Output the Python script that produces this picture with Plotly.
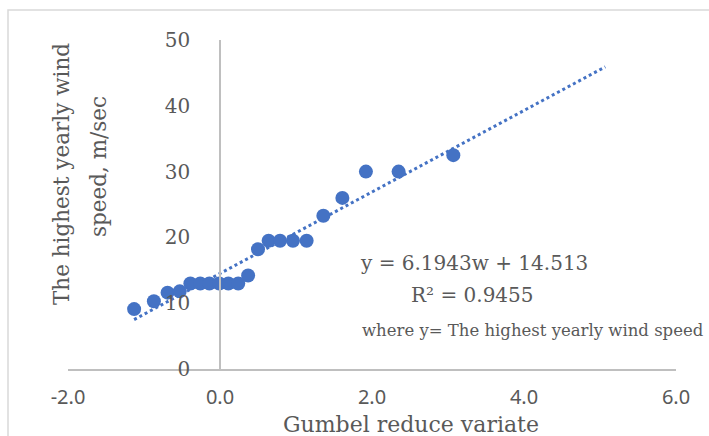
import plotly.graph_objects as go

# Data
gumbel_w = [-1.13, -0.87, -0.69, -0.53, -0.39, -0.26, -0.14, -0.01, 0.11, 0.24,
            0.37, 0.50, 0.64, 0.79, 0.96, 1.14, 1.36, 1.61, 1.92, 2.35, 3.07]
wind_speed = [9.1, 10.3, 11.6, 11.8, 13.0, 13.0, 13.0, 13.0, 13.0, 13.0,
              14.2, 18.2, 19.5, 19.5, 19.5, 19.5, 23.3, 26.0, 30.0, 30.0, 32.5]
slope = 6.1943
intercept = 14.513
r2 = 0.9455
trend_x = [-1.13, 5.07]
trend_y = [slope * w + intercept for w in trend_x]

x_ticks = [-2, 0, 2, 4, 6]
x_tick_labels = ["-2.0", "0.0", "2.0", "4.0", "6.0"]
y_ticks = [0, 10, 20, 30, 40, 50]

W, H = 709, 436
L, R, T, B = 68, 33, 40, 67
PW, PH = W - L - R, H - T - B


def fx(px):
    return (px - L) / PW


def fy(py):
    return (H - B - py) / PH


BLUE = "#4472C4"
GRAY = "#595959"
LINE = "#BFBFBF"
SERIF = "DejaVu Serif, serif"

fig = go.Figure()
fig.add_trace(go.Scatter(x=trend_x, y=trend_y, mode="lines",
                         line=dict(color=BLUE, width=3, dash="dot"),
                         showlegend=False, hoverinfo="skip"))
fig.add_trace(go.Scatter(x=gumbel_w, y=wind_speed, mode="markers",
                         marker=dict(color=BLUE, size=14),
                         showlegend=False))

fig.update_layout(
    width=W, height=H,
    margin=dict(l=L, r=R, t=T, b=B),
    paper_bgcolor="white", plot_bgcolor="white",
    xaxis=dict(range=[-2, 6], tickvals=x_ticks, ticktext=x_tick_labels,
               showgrid=False, zeroline=False, showline=True,
               linecolor=LINE, linewidth=1.5, ticks="",
               ticklabelstandoff=9,
               tickfont=dict(family="Noto Sans", size=20, color=GRAY)),
    yaxis=dict(range=[0, 50], tickvals=y_ticks, anchor="free", position=0.25,
               showgrid=False, zeroline=False, showline=True,
               linecolor=LINE, linewidth=1.5, ticks="",
               ticklabelstandoff=25,
               tickfont=dict(family=SERIF, size=20, color=GRAY)),
    shapes=[dict(type="rect", xref="paper", yref="paper",
                 x0=fx(8), x1=fx(715), y0=fy(445), y1=fy(10),
                 line=dict(color="#D9D9D9", width=1.5), layer="below")],
)

ann = [
    dict(text="y = %.4fw + %.3f" % (slope, intercept), x=fx(474), y=fy(263), size=20),
    dict(text="R² = %.4f" % r2, x=fx(472), y=fy(295), size=20),
    dict(text="where y= The highest yearly wind speed", x=fx(533), y=fy(330), size=16.5),
    dict(text="Gumbel reduce variate", x=fx(411), y=fy(424), size=22),
    dict(text="The highest yearly wind", x=fx(61), y=fy(174), size=21.5, angle=-90),
    dict(text="speed, m/sec", x=fx(98), y=fy(167), size=21.5, angle=-90),
]
for a in ann:
    fig.add_annotation(text=a["text"], x=a["x"], y=a["y"], xref="paper", yref="paper",
                       showarrow=False, xanchor="center", yanchor="middle",
                       textangle=a.get("angle", 0),
                       font=dict(family=SERIF, size=a.get("size", 22), color=GRAY))

fig.write_html("out.html")
